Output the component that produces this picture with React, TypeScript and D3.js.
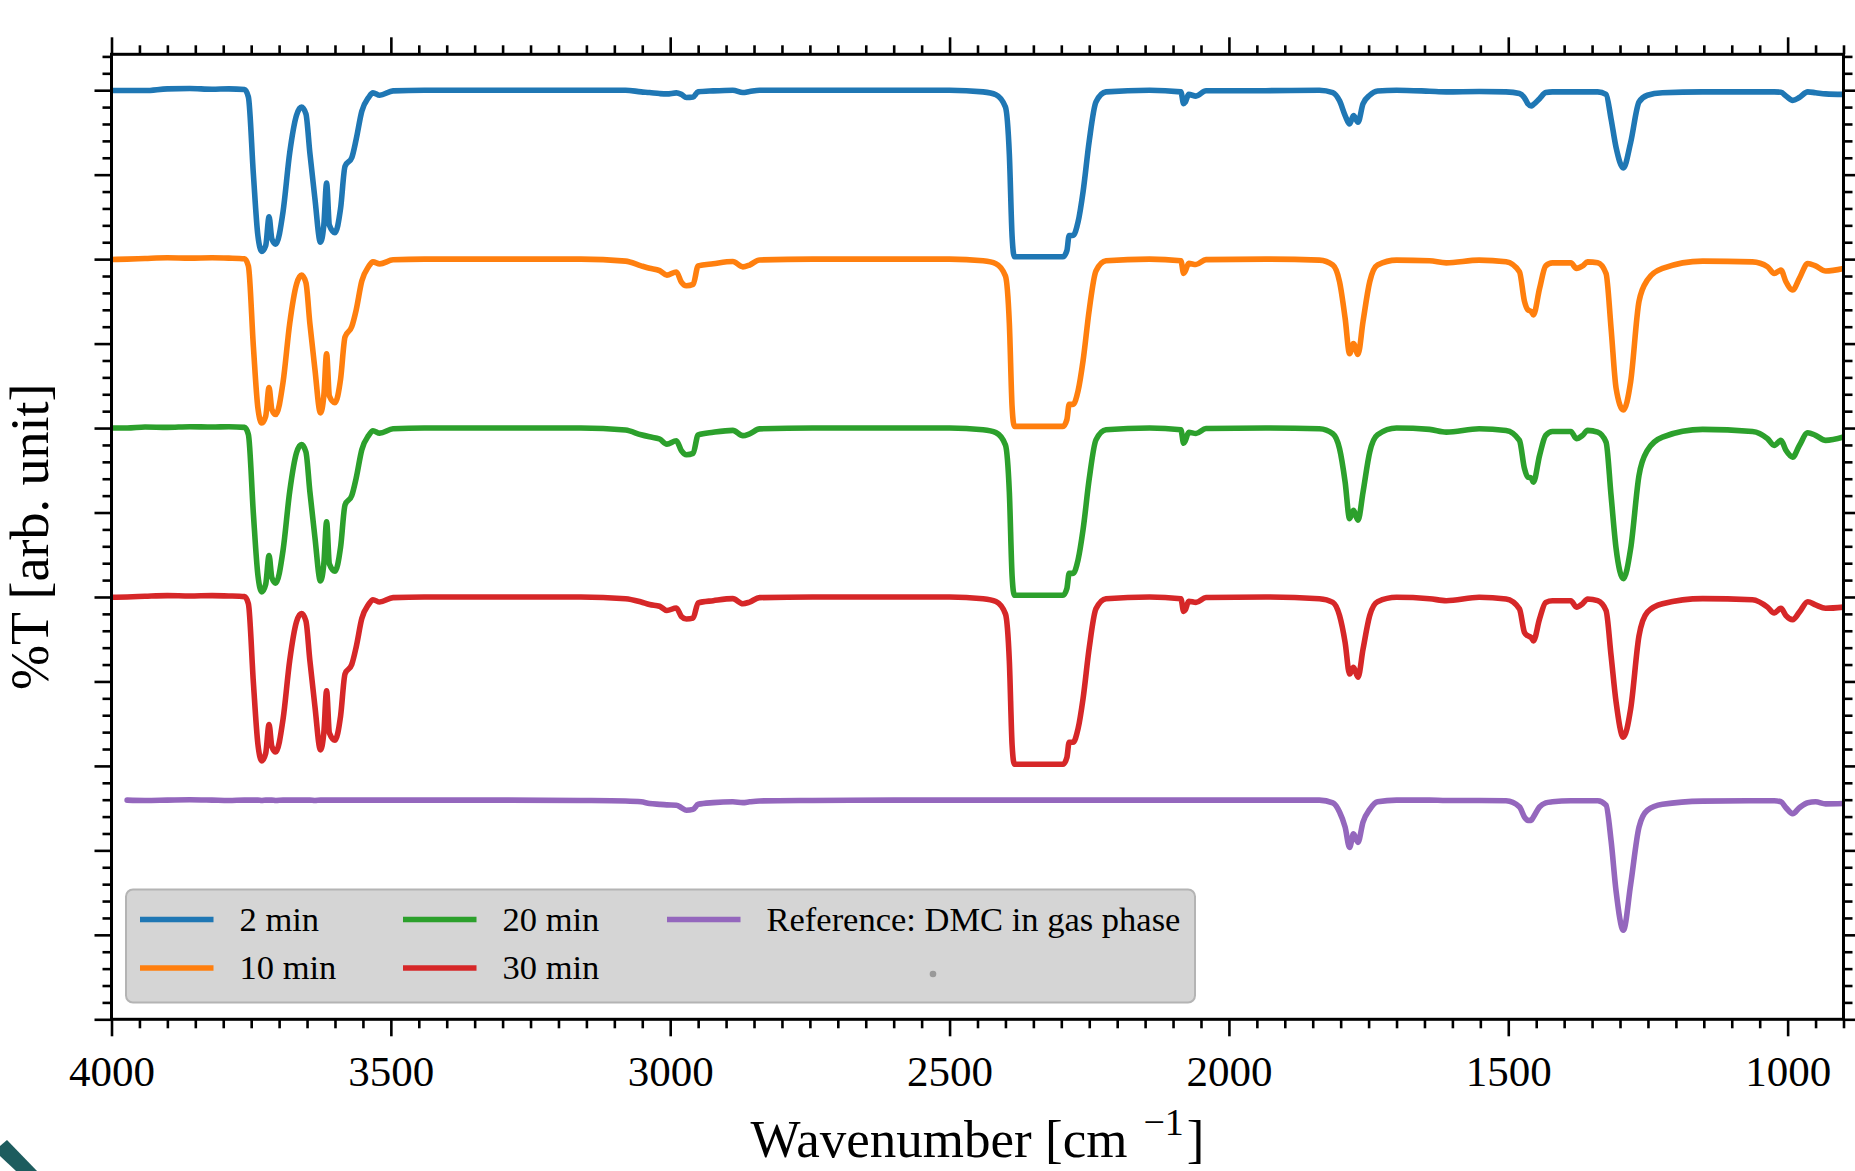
import React, { useEffect, useRef } from "react";
import * as d3 from "d3";

// wavenumber grid [cm^-1] shared by all spectra (denser where bands are)
const wavenumbers = [
  4000, 3972, 3940, 3900, 3860, 3820, 3790, 3762, 3755, 3746,
  3738, 3731, 3724, 3718, 3713, 3706, 3693, 3681, 3669, 3660,
  3652, 3645, 3636, 3626, 3620, 3615, 3610, 3600, 3590, 3582,
  3570, 3562, 3552, 3540, 3532, 3520, 3496, 3440, 3300, 3160,
  3080, 3052, 3037, 3019, 3006, 2989, 2980, 2971, 2959, 2950,
  2923, 2888, 2870, 2858, 2840, 2745, 2600, 2500, 2440, 2417,
  2400, 2393, 2388, 2384, 2340, 2297, 2290, 2286, 2279, 2270,
  2261, 2250, 2238, 2220, 2142, 2086, 2081, 2078, 2072, 2059,
  2041, 1934, 1838, 1814, 1802, 1792, 1784, 1777, 1769, 1760,
  1748, 1734, 1700, 1641, 1611, 1552, 1504, 1480, 1471, 1465,
  1459, 1455, 1444, 1433, 1421, 1388, 1378, 1367, 1358, 1340,
  1325, 1316, 1307, 1294, 1281, 1266, 1251, 1224, 1152, 1063,
  1036, 1024, 1012, 1003, 991, 979, 964, 950, 932, 900,
];

// relative transmission (1 = baseline)
const t2min = [
  0.998, 0.998, 0.998, 1.008, 1.01, 1.006, 1.008, 1.004, 0.96, 0.5,
  0.14, 0.046, 0.08, 0.25, 0.12, 0.088, 0.28, 0.63, 0.85, 0.9,
  0.86, 0.63, 0.36, 0.1, 0.2, 0.45, 0.2, 0.156, 0.3, 0.55,
  0.6, 0.71, 0.875, 0.956, 0.984, 0.97, 0.996, 1.0, 1.0, 1.0,
  1.0, 0.99, 0.986, 0.98, 0.978, 0.984, 0.975, 0.957, 0.96, 0.99,
  0.996, 1.0, 0.986, 0.992, 1.0, 1.0, 1.0, 1.0, 0.99, 0.973,
  0.9, 0.62, 0.13, 0.014, 0.014, 0.014, 0.05, 0.14, 0.14, 0.22,
  0.4, 0.7, 0.93, 0.99, 1.0, 0.99, 0.92, 0.93, 0.975, 0.965,
  0.997, 0.997, 1.0, 0.986, 0.937, 0.85, 0.8, 0.85, 0.81, 0.92,
  0.97, 0.995, 1.0, 0.994, 0.99, 0.992, 0.99, 0.98, 0.955, 0.92,
  0.907, 0.915, 0.95, 0.986, 0.99, 0.99, 0.99, 0.99, 0.99, 0.99,
  0.975, 0.83, 0.66, 0.54, 0.69, 0.93, 0.97, 0.985, 0.99, 0.99,
  0.99, 0.99, 0.988, 0.966, 0.94, 0.957, 0.99, 0.985, 0.978, 0.975,
];

const t10min = [
  0.998, 1.0, 1.004, 1.008, 1.006, 1.008, 1.006, 1.002, 0.96, 0.48,
  0.12, 0.03, 0.07, 0.24, 0.11, 0.08, 0.27, 0.62, 0.85, 0.905,
  0.86, 0.62, 0.35, 0.09, 0.19, 0.44, 0.19, 0.15, 0.29, 0.54,
  0.6, 0.7, 0.87, 0.955, 0.984, 0.972, 0.996, 1.0, 1.0, 1.0,
  0.988, 0.96, 0.946, 0.932, 0.905, 0.924, 0.864, 0.842, 0.85, 0.96,
  0.973, 0.986, 0.954, 0.965, 0.995, 1.0, 1.0, 1.0, 0.99, 0.973,
  0.9, 0.62, 0.12, 0.01, 0.01, 0.01, 0.05, 0.14, 0.14, 0.22,
  0.4, 0.7, 0.93, 0.99, 1.0, 0.99, 0.915, 0.93, 0.975, 0.968,
  0.997, 1.0, 0.994, 0.965, 0.866, 0.65, 0.44, 0.5, 0.436, 0.63,
  0.866, 0.965, 0.994, 0.99, 0.978, 0.994, 0.984, 0.925, 0.75, 0.7,
  0.69, 0.67, 0.826, 0.96, 0.978, 0.978, 0.945, 0.96, 0.984, 0.978,
  0.915, 0.59, 0.235, 0.107, 0.274, 0.75, 0.876, 0.945, 0.988, 0.984,
  0.955, 0.915, 0.935, 0.866, 0.817, 0.886, 0.974, 0.96, 0.93, 0.945,
];

const t20min = [
  1.0, 1.0, 1.006, 1.004, 1.008, 1.006, 1.008, 1.004, 0.962, 0.49,
  0.13, 0.03, 0.075, 0.245, 0.115, 0.082, 0.275, 0.625, 0.852, 0.902,
  0.858, 0.625, 0.355, 0.095, 0.195, 0.445, 0.195, 0.152, 0.295, 0.545,
  0.6, 0.705, 0.872, 0.955, 0.984, 0.97, 0.996, 1.0, 1.0, 1.0,
  0.988, 0.96, 0.948, 0.935, 0.905, 0.925, 0.866, 0.842, 0.85, 0.96,
  0.975, 0.986, 0.955, 0.966, 0.995, 1.0, 1.0, 1.0, 0.99, 0.973,
  0.9, 0.62, 0.12, 0.01, 0.01, 0.01, 0.05, 0.14, 0.14, 0.22,
  0.4, 0.7, 0.93, 0.99, 1.0, 0.99, 0.91, 0.925, 0.975, 0.968,
  0.997, 1.0, 0.996, 0.966, 0.878, 0.68, 0.464, 0.513, 0.454, 0.62,
  0.858, 0.96, 1.0, 0.992, 0.976, 0.996, 0.986, 0.927, 0.76, 0.71,
  0.704, 0.68, 0.838, 0.957, 0.98, 0.98, 0.937, 0.957, 0.986, 0.976,
  0.917, 0.6, 0.286, 0.108, 0.286, 0.72, 0.868, 0.947, 0.992, 0.98,
  0.937, 0.897, 0.927, 0.868, 0.828, 0.897, 0.972, 0.957, 0.927, 0.947,
];

const t30min = [
  0.998, 1.0, 1.004, 1.008, 1.006, 1.008, 1.006, 1.002, 0.96, 0.49,
  0.13, 0.03, 0.075, 0.245, 0.115, 0.082, 0.275, 0.625, 0.852, 0.902,
  0.858, 0.625, 0.355, 0.095, 0.195, 0.445, 0.195, 0.152, 0.295, 0.545,
  0.6, 0.705, 0.872, 0.955, 0.984, 0.97, 0.996, 1.0, 1.0, 1.0,
  0.99, 0.97, 0.955, 0.945, 0.92, 0.935, 0.885, 0.87, 0.875, 0.965,
  0.978, 0.99, 0.96, 0.97, 0.996, 1.0, 1.0, 1.0, 0.99, 0.973,
  0.9, 0.62, 0.12, 0.01, 0.01, 0.01, 0.05, 0.14, 0.14, 0.22,
  0.4, 0.7, 0.93, 0.99, 1.0, 0.99, 0.915, 0.925, 0.975, 0.968,
  0.997, 1.0, 0.99, 0.968, 0.89, 0.73, 0.544, 0.584, 0.525, 0.69,
  0.89, 0.972, 0.998, 0.99, 0.978, 0.998, 0.988, 0.93, 0.79, 0.77,
  0.76, 0.74, 0.87, 0.968, 0.978, 0.978, 0.94, 0.96, 0.988, 0.978,
  0.92, 0.653, 0.377, 0.17, 0.337, 0.77, 0.91, 0.96, 0.99, 0.984,
  0.94, 0.905, 0.933, 0.89, 0.866, 0.91, 0.972, 0.953, 0.933, 0.94,
];

// reference spectrum starts a little below 4000 cm^-1
const tRefDmc = [
  null, 1.0, 0.998, 1.0, 1.002, 1.0, 0.998, 1.0, 1.0, 1.0,
  1.0, 0.998, 1.0, 1.0, 1.0, 0.998, 1.0, 1.0, 1.0, 1.0,
  1.0, 1.0, 0.998, 1.0, 1.0, 1.0, 1.0, 1.0, 1.0, 1.0,
  1.0, 1.0, 1.0, 1.0, 1.0, 1.0, 1.0, 1.0, 1.0, 0.998,
  0.995, 0.99, 0.98, 0.975, 0.972, 0.97, 0.955, 0.94, 0.945, 0.975,
  0.985, 0.99, 0.985, 0.99, 0.995, 0.998, 1.0, 1.0, 1.0, 1.0,
  1.0, 1.0, 1.0, 1.0, 1.0, 1.0, 1.0, 1.0, 1.0, 1.0,
  1.0, 1.0, 1.0, 1.0, 1.0, 1.0, 1.0, 1.0, 1.0, 1.0,
  1.0, 1.0, 1.0, 0.984, 0.93, 0.84, 0.72, 0.8, 0.75, 0.87,
  0.945, 0.99, 1.0, 1.0, 0.998, 0.998, 0.996, 0.96, 0.9, 0.88,
  0.88, 0.9, 0.96, 0.984, 0.99, 0.996, 0.996, 0.996, 0.996, 0.996,
  0.97, 0.76, 0.46, 0.23, 0.5, 0.84, 0.94, 0.975, 0.994, 0.996,
  0.996, 0.996, 0.99, 0.955, 0.92, 0.955, 0.985, 0.99, 0.978, 0.98,
];

const seriesLabels = ["2 min", "10 min", "20 min", "30 min", "Reference: DMC in gas phase"];
const seriesValues = [t2min, t10min, t20min, t30min, tRefDmc];
// vertical offsets of the stacked spectra (arb. unit)
const seriesOffsets = [1.8, 1.4, 1.0, 0.6, 0.119];
const transScale = 0.4;

const colors = ["#1f77b4", "#ff7f0e", "#2ca02c", "#d62728", "#9467bd"];
const font = "'Liberation Serif', 'Times New Roman', serif";

const App = () => {
  const svgRef = useRef<SVGSVGElement>(null);

  useEffect(() => {
    const svg = d3.select(svgRef.current);
    svg.selectAll("*").remove();

    const left = 111.5, right = 1843.5, top = 54.3, bottom = 1019.3;

    const x = d3.scaleLinear().domain([4000, 900]).range([left, right]);
    const y = d3.scaleLinear().domain([0, 2.285]).range([bottom, top]);

    svg.append("defs")
      .append("clipPath")
      .attr("id", "plot-clip")
      .append("rect")
      .attr("x", left)
      .attr("y", top)
      .attr("width", right - left)
      .attr("height", bottom - top);

    // spectra
    const plot = svg.append("g").attr("clip-path", "url(#plot-clip)");
    seriesValues.forEach((vals, s) => {
      const line = d3
        .line<number | null>()
        .defined((d) => d !== null)
        .x((_, i) => x(wavenumbers[i]))
        .y((d) => y(seriesOffsets[s] + transScale * (d as number)))
        .curve(d3.curveMonotoneX);
      plot
        .append("path")
        .datum(vals)
        .attr("d", line)
        .attr("fill", "none")
        .attr("stroke", colors[s])
        .attr("stroke-width", 5.6)
        .attr("stroke-linejoin", "round")
        .attr("stroke-linecap", "round");
    });

    // ticks on all four sides, pointing outward
    const xMajor = d3.range(1000, 4001, 500);
    const xMinor = d3.range(900, 4001, 50).filter((v) => v % 500 !== 0);
    const yMajor = d3.range(0, 12).map((i) => i * 0.2);
    const yMinor = d3.range(0, 58).filter((i) => i % 5 !== 0).map((i) => i * 0.04);

    const addAxis = (axis: any, transform: string) => {
      const g = svg.append("g").attr("transform", transform).call(axis);
      g.select(".domain").remove();
      g.selectAll(".tick line").attr("stroke", "#000").attr("stroke-width", 2.6);
      g.selectAll(".tick text")
        .attr("font-family", font)
        .attr("font-size", 43)
        .attr("fill", "#000");
      return g;
    };
    const blank = () => "";

    addAxis(
      d3.axisBottom(x).tickValues(xMajor).tickSize(17).tickPadding(19).tickFormat(d3.format("d")),
      `translate(0,${bottom})`
    );
    addAxis(d3.axisBottom(x).tickValues(xMinor).tickSize(9).tickFormat(blank), `translate(0,${bottom})`);
    addAxis(d3.axisTop(x).tickValues(xMajor).tickSize(17).tickFormat(blank), `translate(0,${top})`);
    addAxis(d3.axisTop(x).tickValues(xMinor).tickSize(9).tickFormat(blank), `translate(0,${top})`);
    addAxis(d3.axisLeft(y).tickValues(yMajor).tickSize(17).tickFormat(blank), `translate(${left},0)`);
    addAxis(d3.axisLeft(y).tickValues(yMinor).tickSize(9).tickFormat(blank), `translate(${left},0)`);
    addAxis(d3.axisRight(y).tickValues(yMajor).tickSize(17).tickFormat(blank), `translate(${right},0)`);
    addAxis(d3.axisRight(y).tickValues(yMinor).tickSize(9).tickFormat(blank), `translate(${right},0)`);

    // frame
    svg.append("rect")
      .attr("x", left)
      .attr("y", top)
      .attr("width", right - left)
      .attr("height", bottom - top)
      .attr("fill", "none")
      .attr("stroke", "#000")
      .attr("stroke-width", 3);

    // axis labels
    const xl = svg.append("text")
      .attr("x", (left + right) / 2)
      .attr("y", 1157)
      .attr("text-anchor", "middle")
      .attr("font-family", font)
      .attr("font-size", 53)
      .attr("fill", "#000")
      .text("Wavenumber [cm");
    xl.append("tspan").attr("dx", 16).attr("dy", -22).attr("font-size", 38).text("\u22121");
    xl.append("tspan").attr("dx", 3).attr("dy", 22).text("]");

    svg.append("text")
      .attr("transform", `translate(48,${(top + bottom) / 2}) rotate(-90)`)
      .attr("text-anchor", "middle")
      .attr("font-family", font)
      .attr("font-size", 54)
      .attr("fill", "#000")
      .text("%T [arb. unit]");

    // legend, 3 columns filled column-wise
    const legend = svg.append("g");
    legend.append("rect")
      .attr("x", 126)
      .attr("y", 889.5)
      .attr("width", 1069)
      .attr("height", 113)
      .attr("rx", 7)
      .attr("fill", "#d5d5d5")
      .attr("stroke", "#b4b4b4")
      .attr("stroke-width", 2);

    const colX = [140, 403, 667];
    const rowY = [919.5, 968];
    seriesLabels.forEach((label, i) => {
      const cx = colX[Math.floor(i / 2)];
      const cy = rowY[i % 2];
      legend.append("line")
        .attr("x1", cx)
        .attr("x2", cx + 73.5)
        .attr("y1", cy)
        .attr("y2", cy)
        .attr("stroke", colors[i])
        .attr("stroke-width", 5.5);
      legend.append("text")
        .attr("x", cx + 99.5)
        .attr("y", cy + 11)
        .attr("font-family", font)
        .attr("font-size", 34.5)
        .attr("fill", "#000")
        .text(label);
    });
    legend.append("circle").attr("cx", 933).attr("cy", 974).attr("r", 3.3).attr("fill", "#999");

    // bit of a logo cut off at the lower-left corner of the picture
    svg.append("path")
      .attr("d", "M0,1146 L7,1140 L37,1171 L16,1171 L0,1156 Z")
      .attr("fill", "#1d5c5e");
  }, []);

  return (
    <svg
      ref={svgRef}
      width={1855}
      height={1171}
      style={{ position: "absolute", left: 0, top: 0, background: "#fff" }}
    ></svg>
  );
};

export default App;
